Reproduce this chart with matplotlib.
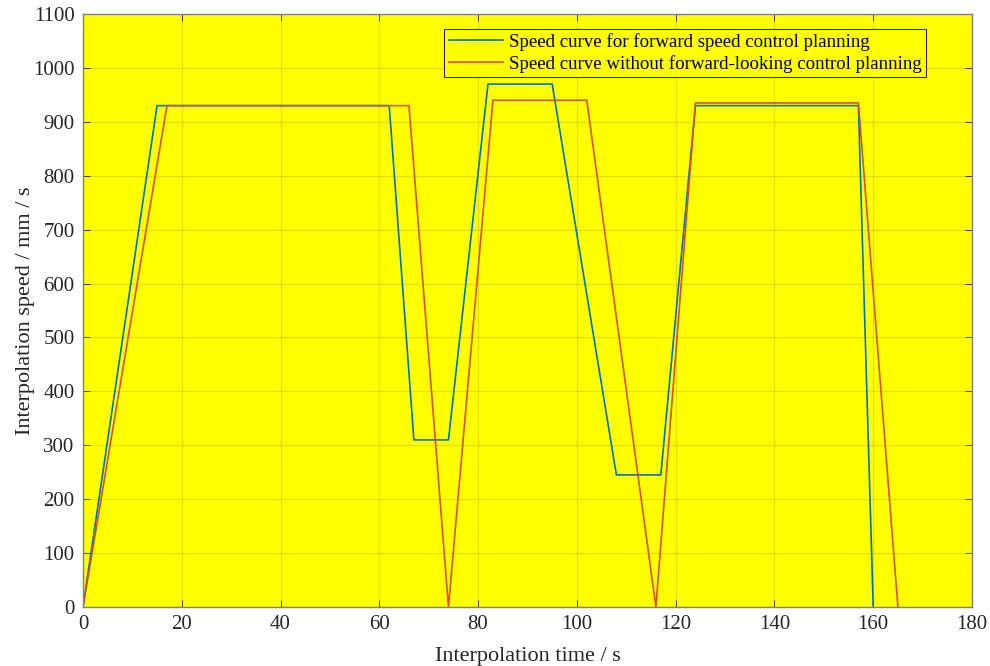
import matplotlib
matplotlib.use("Agg")
import matplotlib.pyplot as plt

# Data
blue_t = [0, 15, 62, 67, 74, 82, 95, 108, 117, 124, 157, 160]
blue_v = [0, 930, 930, 310, 310, 970, 970, 245, 245, 930, 930, 0]
red_t = [0, 17, 66, 74, 83, 102, 116, 124, 157, 165]
red_v = [0, 930, 930, 0, 940, 940, 0, 935, 935, 0]

labels = ["Speed curve for forward speed control planning",
          "Speed curve without forward-looking control planning"]
x_ticks = list(range(0, 181, 20))
y_ticks = list(range(0, 1101, 100))

plt.rcParams['font.family'] = ['Liberation Serif', 'DejaVu Serif']

fig = plt.figure(figsize=(9.9, 6.66), dpi=100)
ax = fig.add_axes([83/990, (666-607)/666, (972-83)/990, (607-14)/666])
ax.set_facecolor('#FFFF00')

ax.plot(blue_t, blue_v, color='#0072BD', lw=1.2, label=labels[0])
ax.plot(red_t, red_v, color='#D95319', lw=1.2, label=labels[1])

ax.set_xlim(0, 180)
ax.set_ylim(0, 1100)
ax.set_xticks(x_ticks)
ax.set_yticks(y_ticks)
ax.tick_params(direction='in', length=5, width=0.6, colors='#262626',
               labelsize=15, top=True, right=True, pad=6)
for s in ax.spines.values():
    s.set_color('#808080')
    s.set_linewidth(1.0)
ax.grid(True, color='#262626', alpha=0.15, lw=0.8)
ax.set_axisbelow(True)

ax.set_xlabel('Interpolation time / s', fontsize=16, color='#262626', labelpad=9)
ax.set_ylabel('Interpolation speed / mm / s', fontsize=16, color='#262626', labelpad=-1)

leg = ax.legend(loc='upper right', bbox_to_anchor=((926-83)/889, (607-29)/593),
                fontsize=13.6, frameon=True, fancybox=False, handlelength=2.9,
                handletextpad=0.3, borderpad=0.22, labelspacing=0.2,
                borderaxespad=0)
leg.get_frame().set_facecolor('#FFFF00')
leg.get_frame().set_edgecolor('#262626')
leg.get_frame().set_linewidth(0.8)
leg.get_frame().set_alpha(1)

fig.savefig('out.png', dpi=100, facecolor='white')
